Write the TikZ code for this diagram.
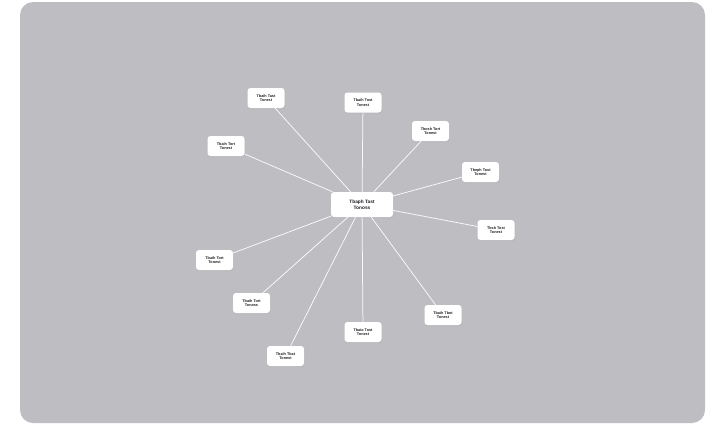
\documentclass[tikz,border=0pt]{standalone}
\usepackage{fontspec}
\setmainfont{Liberation Sans}
\usetikzlibrary{shadows}
\definecolor{panel}{RGB}{190,189,194}
\definecolor{txt}{RGB}{30,30,35}
\tikzset{
  leaf/.style={draw=none, fill=white, rounded corners=3bp, minimum width=37bp, minimum height=20bp,
    inner sep=0pt, align=center, font=\bfseries\fontsize{3.8}{4.6}\selectfont, text=txt,
    drop shadow={opacity=0.12, shadow xshift=0.6bp, shadow yshift=-1.2bp}},
  hub/.style={leaf, minimum width=62bp, minimum height=25bp, font=\bfseries\fontsize{4.8}{6}\selectfont},
  spoke/.style={draw=white!96!gray, line width=0.75bp}
}
\begin{document}
\begin{tikzpicture}[x=1bp,y=-1bp]
\useasboundingbox (0,0) rectangle (719,425);
\fill[panel, rounded corners=13bp] (20,2) rectangle (705,423);
\node[hub] (c) at (362,204.5) {Tbaph Tast\\Tonoss};
\node[leaf] (n1) at (266,98) {Tbaih Tast\\Tonest};
\node[leaf] (n2) at (363,102.5) {Tbaih Tost\\Tonest};
\node[leaf] (n3) at (430.5,131) {Tbosh Tort\\Tonest};
\node[leaf] (n4) at (480.5,172) {Tbeph Tost\\Tonest};
\node[leaf] (n5) at (496,230) {Tbsh Tost\\Tonest};
\node[leaf] (n6) at (443,315) {Tbaih Tbot\\Tonest};
\node[leaf] (n7) at (363,332) {Tbaio Tost\\Tonest};
\node[leaf] (n8) at (285.5,356) {Tbaih Tbat\\Tonest};
\node[leaf] (n9) at (251.5,303) {Tbaih Tort\\Tonoss};
\node[leaf] (n10) at (214.5,260) {Tbaih Tort\\Tonest};
\node[leaf] (n11) at (226,146) {Tbaih Tort\\Tonest};
\foreach \n in {n1,n2,n3,n4,n5,n6,n7,n8,n9,n10,n11}{
  \draw[spoke] (c) -- (\n);
}
\end{tikzpicture}
\end{document}
